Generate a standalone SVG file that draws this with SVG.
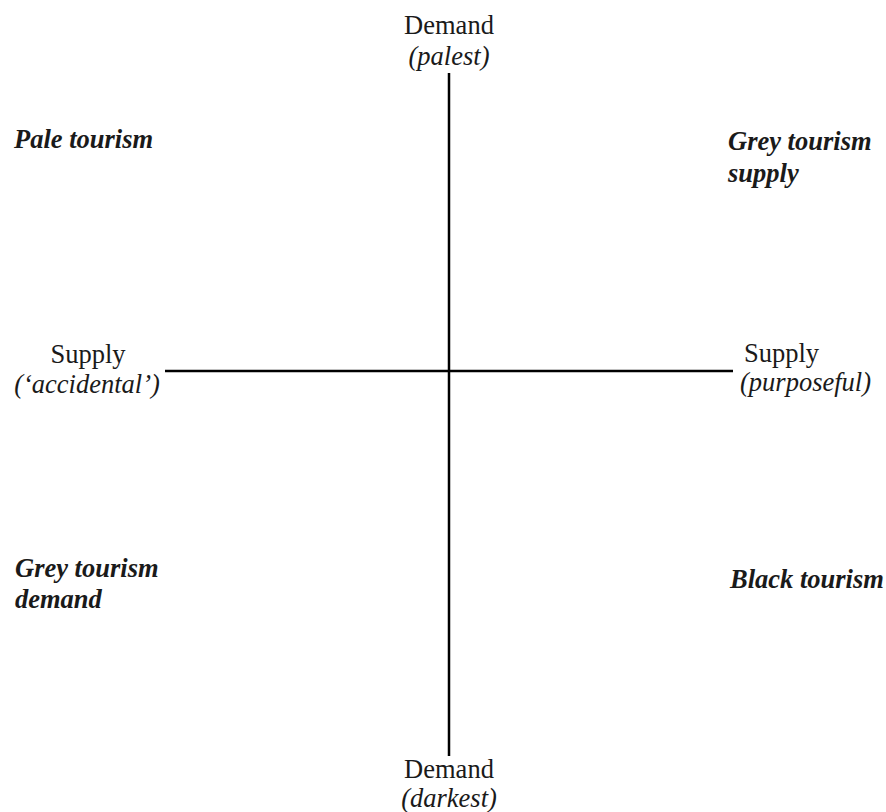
<svg xmlns="http://www.w3.org/2000/svg" width="886" height="812" viewBox="0 0 886 812">
<style>
text{font-family:"Liberation Serif","Times New Roman",serif;font-size:26.5px;fill:#1a1a1a}
.i{font-style:italic}
.q{font-style:italic;font-weight:bold}
.c{text-anchor:middle}
.ax{stroke:#000;stroke-width:2.5;fill:none}
</style>
<rect width="886" height="812" fill="#fff"/>
<g id="connectors">
<line class="ax" x1="449" y1="73" x2="449" y2="756"/>
<line class="ax" x1="165" y1="371" x2="733" y2="371"/>
</g>
<g id="demand-top"><text class="c" x="449" y="34">Demand</text><text class="c i" x="449" y="65">(palest)</text></g>
<g id="demand-bottom"><text class="c" x="449" y="778">Demand</text><text class="c i" x="449" y="807">(darkest)</text></g>
<g id="supply-left"><text class="c" x="88" y="363">Supply</text><text class="c i" x="87" y="393">(‘accidental’)</text></g>
<g id="supply-right"><text x="744" y="362">Supply</text><text class="i" x="740" y="391">(purposeful)</text></g>
<g id="pale"><text class="q" x="14" y="148">Pale tourism</text></g>
<g id="grey-supply"><text class="q" x="728" y="150">Grey tourism</text><text class="q" x="728" y="182">supply</text></g>
<g id="grey-demand"><text class="q" x="15" y="577">Grey tourism</text><text class="q" x="15" y="608">demand</text></g>
<g id="black"><text class="q" x="730" y="588">Black tourism</text></g>
</svg>
